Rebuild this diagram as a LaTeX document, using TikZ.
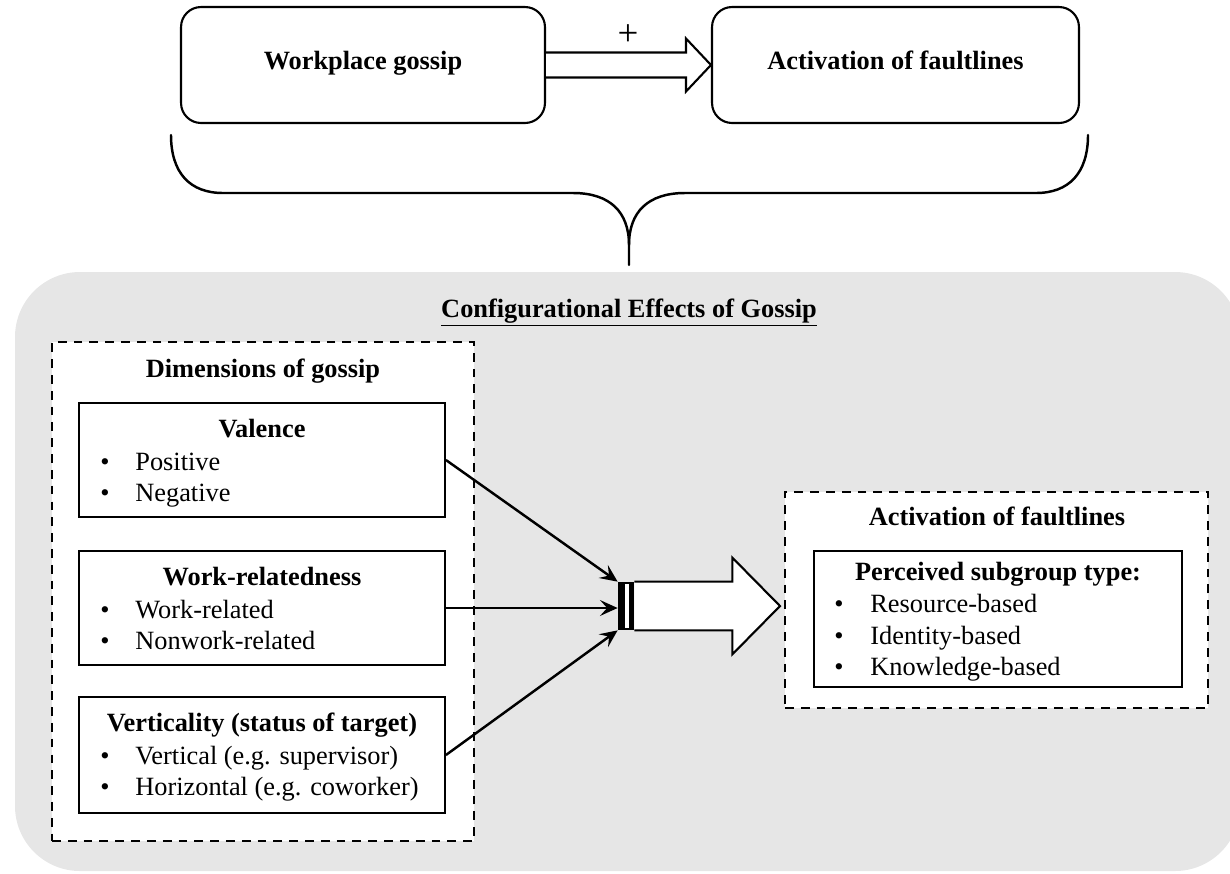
\documentclass[tikz,border=0pt]{standalone}
\usepackage{fontspec}
\setmainfont{Liberation Serif}
\usetikzlibrary{calc,arrows.meta}
\definecolor{panel}{HTML}{E6E6E6}
\newcommand\figfont{\fontsize{15}{18}\selectfont}
\tikzset{
  rbox/.style={draw, line width=1.2pt, rounded corners=0.4cm, inner sep=0pt, font=\figfont\bfseries,
    text height=1.5ex, text depth=0.3ex},
  sbox/.style={draw, fill=white, line width=1.1pt, inner sep=0pt},
  dbox/.style={draw, fill=white, line width=1.2pt, dash pattern=on 5pt off 4pt, inner sep=0pt},
  head/.style={font=\figfont\bfseries, anchor=base, inner sep=0pt},
  item/.style={font=\figfont, anchor=base west, inner sep=0pt},
  dot/.style={font=\figfont, anchor=base, inner sep=0pt},
  link/.style={line width=1.4pt, -{Stealth[length=10pt, width=9pt, inset=4pt]}},
  hollow/.style={draw, line width=1.2pt, fill=white, line join=miter},
  brace/.style={draw, line width=1.4pt, line cap=round},
}

\begin{document}
\begin{tikzpicture}[x=0.02cm, y=-0.02cm]
  \clip (0,0) rectangle (1230,873);
  % top row
  \node[rbox, minimum width=7.28cm, minimum height=2.32cm] (gossip) at (363,65) {Workplace gossip};
  \node[rbox, minimum width=7.34cm, minimum height=2.32cm] (act) at (895.5,65) {Activation of faultlines};
  \draw[hollow] ($(gossip.east)+(0,-12.5)$) -- ($(act.west)+(-25,-12.5)$) -- ($(act.west)+(-25,-26.5)$)
    -- (act.west) -- ($(act.west)+(-25,26.5)$) -- ($(act.west)+(-25,12.5)$) -- ($(gossip.east)+(0,12.5)$);
  \node[font=\fontsize{21}{24}\selectfont, inner sep=0pt] (plus) at (628,35) {+};
  % brace
  \draw[brace] (171,135) .. controls (171,173) and (190,193) .. (223,193) -- (573,193)
    .. controls (610,193) and (629,212) .. (629,245) -- (629,265);
  \draw[brace] (1088,135) .. controls (1088,173) and (1069,193) .. (1036,193) -- (685,193)
    .. controls (648,193) and (629,212) .. (629,245);
  % panel
  \fill[panel, rounded corners=1.3cm] (15,272) rectangle (1240,871);
  \node[head] (cfg) at (629,317) {\underline{Configurational Effects of Gossip}};
  % dimensions of gossip
  \node[dbox, minimum width=8.44cm, minimum height=9.98cm] (dims) at (263,591.5) {};
  \node[head] (dimst) at (263,377) {Dimensions of gossip};
  \node[sbox, minimum width=7.32cm, minimum height=2.28cm] (valence) at (262,460) {};
  \node[head] (valt) at (262,437) {Valence};
  \node[dot] (vd1) at (105,470) {•};
  \node[item] (vi1) at (135,470) {Positive};
  \node[dot] (vd2) at (105,501) {•};
  \node[item] (vi2) at (135,501) {Negative};
  \node[sbox, minimum width=7.32cm, minimum height=2.28cm] (work) at (262,608) {};
  \node[head] (workt) at (262,585) {Work-relatedness};
  \node[dot] (wd1) at (105,618) {•};
  \node[item] (wi1) at (135,618) {Work-related};
  \node[dot] (wd2) at (105,649) {•};
  \node[item] (wi2) at (135,649) {Nonwork-related};
  \node[sbox, minimum width=7.32cm, minimum height=2.32cm] (vert) at (262,755) {};
  \node[head] (vertt) at (262,731) {Verticality (status of target)};
  \node[dot] (td1) at (105,764) {•};
  \node[item] (ti1) at (135,764) {Vertical (e.g. supervisor)};
  \node[dot] (td2) at (105,795) {•};
  \node[item] (ti2) at (135,795) {Horizontal (e.g. coworker)};
  % activation of faultlines
  \node[dbox, minimum width=8.46cm, minimum height=4.32cm] (actbox) at (996.5,600) {};
  \node[head] (actt) at (997,525) {Activation of faultlines};
  \node[sbox, minimum width=7.36cm, minimum height=2.72cm] (perc) at (998,619) {};
  \node[head] (perct) at (998,580) {Perceived subgroup type:};
  \node[dot] (pd1) at (839,612) {•};
  \node[item] (pi1) at (870,612) {Resource-based};
  \node[dot] (pd2) at (839,644) {•};
  \node[item] (pi2) at (870,644) {Identity-based};
  \node[dot] (pd3) at (839,675) {•};
  \node[item] (pi3) at (870,675) {Knowledge-based};
  % merge bar and block arrow
  \node[fill=black, minimum width=0.32cm, minimum height=0.96cm, inner sep=0pt] (bar) at (626,606) {};
  \coordinate (tip) at (780,606);
  \draw[hollow] (bar.north east) -- ++(98,0) -- ++(0,-24) -- (tip) -- ($(bar.south east)+(98,24)$)
    -- ++(0,-24) -- (bar.south east);
  \fill[white] ($(bar.north west)+(7,2)$) rectangle ($(bar.south west)+(11,-2)$);
  \draw[link] (valence.east) -- (bar.north west);
  \draw[link] (work.east) -- (work.east -| bar.west);
  \draw[link] (vert.east) -- (bar.south west);
\end{tikzpicture}
\end{document}
